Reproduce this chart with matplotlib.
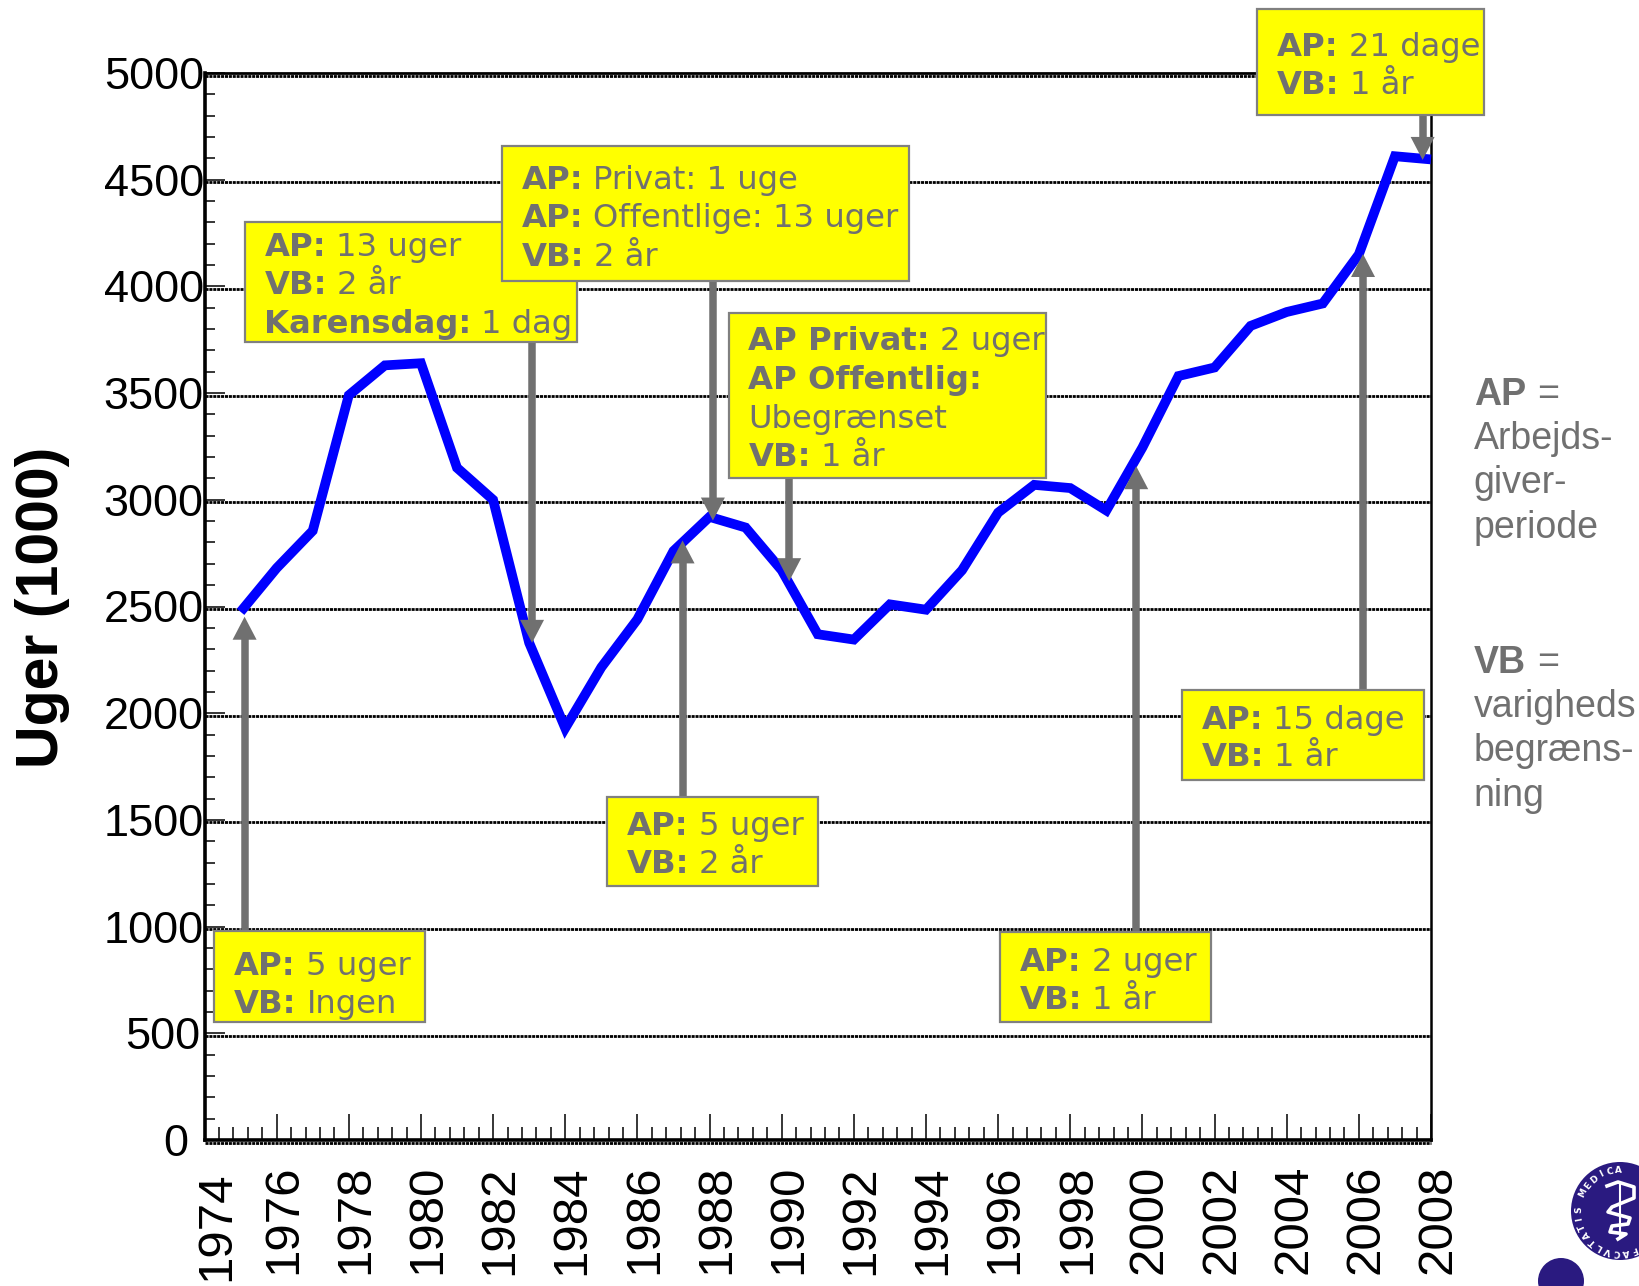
import numpy as np
import matplotlib
matplotlib.use('Agg')
import matplotlib.pyplot as plt
from matplotlib.patches import Rectangle, Circle, Polygon
from matplotlib.ticker import MultipleLocator
from matplotlib.transforms import ScaledTranslation

# data
years = list(range(1975, 2009))
uger = [2475, 2680, 2855, 3490, 3630, 3640, 3150, 3000, 2330, 1930,
        2215, 2440, 2760, 2920, 2870, 2670, 2370, 2345, 2510, 2485,
        2670, 2940, 3070, 3055, 2950, 3245, 3580, 3620, 3815, 3880,
        3920, 4150, 4610, 4595]
year_ticks = list(range(1974, 2009, 2))
y_ticks = list(range(0, 5001, 500))

# tekstbokse: (venstre, top, hoejre, bund), linjer med (fed, normal)
bokse = [
    ((205, 891, 407, 978), [('AP:', '5 uger'), ('VB:', 'Ingen')], [933, 969]),
    ((234, 212, 552, 327), [('AP:', '13 uger'), ('VB:', '2 år'), ('Karensdag:', '1 dag')], [245, 281, 319]),
    ((480, 140, 870, 269), [('AP:', 'Privat: 1 uge'), ('AP:', 'Offentlige: 13 uger'), ('VB:', '2 år')], [181, 217, 254]),
    ((697, 299, 1001, 457), [('AP Privat:', '2 uger'), ('AP Offentlig:', ''), ('', 'Ubegrænset'), ('VB:', '1 år')], [335, 372, 409, 446]),
    ((581, 762, 783, 848), [('AP:', '5 uger'), ('VB:', '2 år')], [799, 835]),
    ((957, 892, 1159, 978), [('AP:', '2 uger'), ('VB:', '1 år')], [929, 965]),
    ((1131, 660, 1362, 746), [('AP:', '15 dage'), ('VB:', '1 år')], [697, 733]),
    ((1203, 9, 1420, 110), [('AP:', '21 dage'), ('VB:', '1 år')], [54, 90]),
]
# pile: x, start y, spids y
pile = [(234, 891, 590), (509, 327, 615), (682, 269, 498), (755, 457, 556),
        (653, 762, 517), (1087, 892, 446), (1304, 660, 243), (1361, 110, 153)]

S = 1639 / 1568
GRA = '#707070'
W, H = 1639, 1286

fig = plt.figure(figsize=(W / 100, H / 100), dpi=100, facecolor='white')
ax = fig.add_axes([204.5 / W, 1 - 1140 / H, (1431 - 204.5) / W, (1140 - 73) / H])

ax.set_xlim(1974, 2008)
ax.set_ylim(0, 5000)
ax.set_xticks(year_ticks)
ax.set_yticks(y_ticks)
ax.xaxis.set_minor_locator(MultipleLocator(0.4))
ax.yaxis.set_minor_locator(MultipleLocator(100))
ax.grid(True, axis='y', color='black', linewidth=2.0, linestyle=(0, (1.1, 0.3)), zorder=1)
ax.set_axisbelow(True)
ax.tick_params(axis='x', which='major', direction='in', length=19, width=1.1, pad=18, top=False)
ax.tick_params(axis='x', which='minor', direction='in', length=9.5, width=1.1, top=False)
ax.tick_params(axis='y', which='major', direction='in', length=14.5, width=1.1, pad=0.5, right=False)
ax.tick_params(axis='y', which='minor', direction='in', length=7.5, width=1.1, right=False)
for s, lw in [('left', 2.6), ('bottom', 2.6), ('top', 2.0), ('right', 1.8)]:
    ax.spines[s].set_linewidth(lw)

ax.set_xticklabels([str(a) for a in year_ticks], rotation=90, family='Liberation Sans',
                   fontsize=35.5, va='top', ha='center')
ax.set_yticklabels([str(a) for a in y_ticks], family='Liberation Sans', fontsize=32.5)
for i, lab in enumerate(ax.get_xticklabels()):
    dx, dy = (12, -6) if i == 0 else (7, 0)
    lab.set_transform(lab.get_transform() + ScaledTranslation(dx / 100, dy / 100, fig.dpi_scale_trans))
for val, lab in zip(y_ticks, ax.get_yticklabels()):
    dx = {0: -16, 500: -4}.get(val, 0)
    lab.set_transform(lab.get_transform() + ScaledTranslation(dx / 100, 0, fig.dpi_scale_trans))

# gitterlinjerne ligger lidt under tick-maerkerne i originalen
for tick in ax.yaxis.get_major_ticks():
    tick.gridline.set_transform(tick.gridline.get_transform() + ScaledTranslation(0, -2.6 / 100, fig.dpi_scale_trans))
    tick.gridline.set_clip_on(False)

ax.plot(years, uger, color='#0000ff', linewidth=7, solid_joinstyle='miter',
        solid_capstyle='butt', clip_on=False, zorder=5)

# overlay i pixelkoordinater til bokse, pile og tekst
ov = fig.add_axes([0, 0, 1, 1])
ov.set_xlim(0, W)
ov.set_ylim(H, 0)
ov.axis('off')
ov.patch.set_alpha(0)

renderer = fig.canvas.get_renderer()


def tekst_linje(x, y, fed, normal, size, family, color=GRA, gap=0.42):
    if fed:
        t = ov.text(x, y, fed, fontweight='bold', fontsize=size, family=family, color=color, va='baseline', zorder=20)
        x = ov.transData.inverted().transform((t.get_window_extent(renderer).x1, 0))[0] + size * gap
    if normal:
        ov.text(x, y, normal, fontsize=size, family=family, color=color, va='baseline', zorder=20)


for (x, y0, y1) in pile:
    x, y0, y1 = x * S, y0 * S, y1 * S
    d = 1 if y1 > y0 else -1
    ov.plot([x, x], [y0, y1 - d * 20], color=GRA, linewidth=5.4, solid_capstyle='butt', zorder=8)
    ov.add_patch(Polygon([(x - 12, y1 - d * 23), (x + 12, y1 - d * 23), (x, y1)], closed=True,
                         facecolor=GRA, edgecolor='none', zorder=8))

for (l, t, r, b), linjer, baser in bokse:
    ov.add_patch(Rectangle((l * S, t * S), (r - l) * S, (b - t) * S, facecolor='#ffff00',
                           edgecolor='#808080', linewidth=1.6, zorder=10))
for (l, t, r, b), linjer, baser in bokse:
    for (fed, normal), by in zip(linjer, baser):
        tekst_linje((l + 19) * S, by * S, fed, normal, 23.2, 'DejaVu Sans')

ov.text(41 * S, 581 * S, 'Uger (1000)', rotation=90, fontsize=42.5, fontweight='bold',
        family='Liberation Sans', color='black', ha='center', va='center')

for fed, normal, by in [('AP', '=', 387.5), ('', 'Arbejds-', 429.5), ('', 'giver-', 471.5), ('', 'periode', 514.5),
                        ('VB', '=', 643.5), ('', 'varigheds', 685.5), ('', 'begræns-', 728.5), ('', 'ning', 771.5)]:
    tekst_linje(1410 * S, by * S, fed, normal, 27, 'Liberation Sans')

# logo
NAVY = '#2a1a80'
ov.add_patch(Circle((1620, 1211), 49, facecolor=NAVY, edgecolor='none', zorder=3, clip_on=True))
ov.add_patch(Circle((1561, 1281), 23, facecolor=NAVY, edgecolor='none', zorder=3, clip_on=True))
ov.plot([1620, 1620], [1184, 1238], color='white', linewidth=1.5, zorder=4)
ov.plot([1607, 1618, 1634, 1634, 1612, 1608, 1630, 1628, 1612, 1610, 1626, 1618],
        [1186, 1182, 1187, 1198, 1207, 1212, 1218, 1224, 1226, 1232, 1234, 1239],
        color='white', linewidth=2.6, zorder=4)
ring = 'FACVLTATIS MEDICA'
for i, c in enumerate(ring):
    a = np.deg2rad(70 + i * (210 / len(ring)))
    ov.text(1620 + 41 * np.cos(a), 1211 + 41 * np.sin(a), c, color='white', fontsize=6.5,
            fontweight='bold', rotation=np.rad2deg(-a) - 90, rotation_mode='anchor',
            ha='center', va='center', zorder=4)

fig.savefig('out.png', dpi=100)
